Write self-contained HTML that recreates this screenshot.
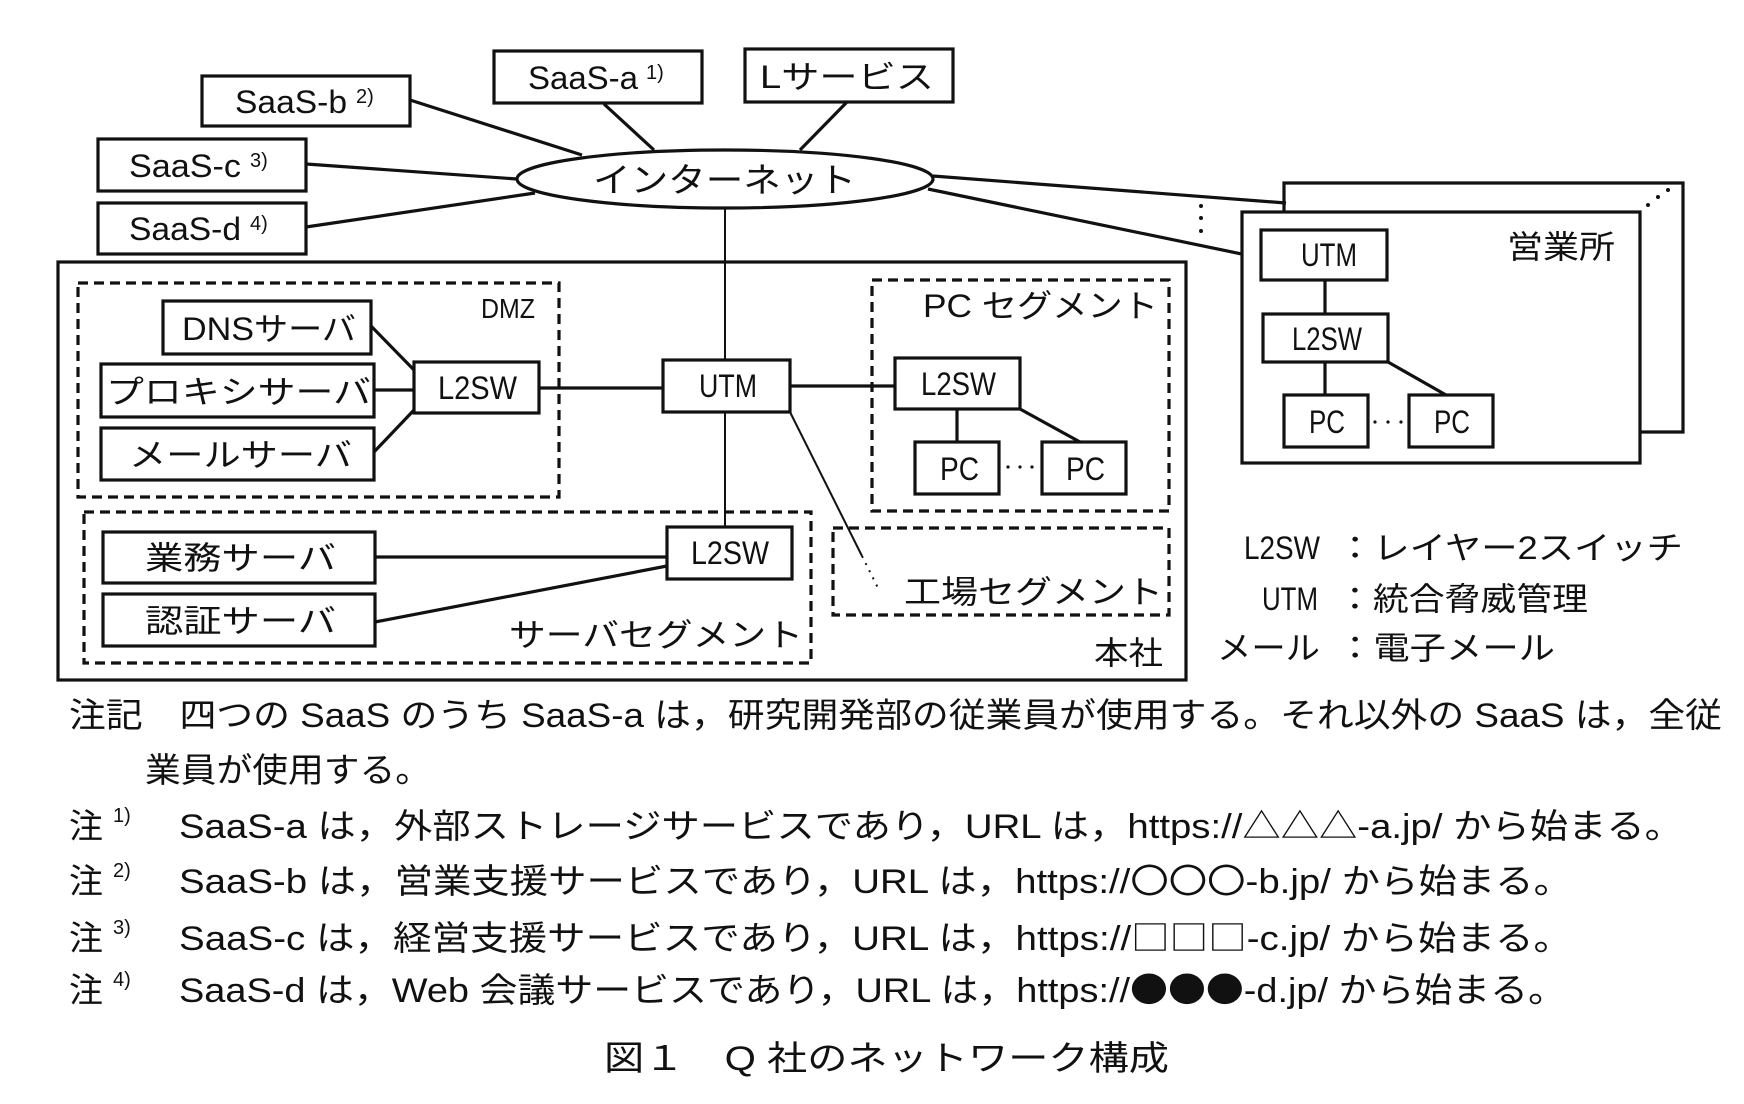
<!DOCTYPE html>
<html><head><meta charset="utf-8"><style>
html,body{margin:0;padding:0;background:#fff;}
svg{display:block;}
text{font-family:"Liberation Sans","Noto Sans CJK JP",sans-serif;fill:#111;}
</style></head><body>
<svg width="1744" height="1104" viewBox="0 0 1744 1104" xmlns="http://www.w3.org/2000/svg">
<g stroke="#111" stroke-width="3.2" fill="none">
<rect x="494" y="51" width="208" height="52"/>
<rect x="745" y="49" width="208" height="53"/>
<rect x="202" y="76" width="208" height="50"/>
<rect x="98" y="139" width="208" height="52"/>
<rect x="98" y="203" width="208" height="51"/>
<ellipse cx="725" cy="179" rx="208" ry="29"/>
<line x1="410" y1="100" x2="582" y2="155"/>
<line x1="604" y1="104" x2="654" y2="150"/>
<line x1="847" y1="102" x2="800" y2="150"/>
<line x1="306" y1="164" x2="517" y2="179"/>
<line x1="306" y1="227" x2="535" y2="193"/>
<line x1="933" y1="176" x2="1286" y2="203"/>
<line x1="928" y1="189" x2="1261" y2="258"/>
<line x1="725" y1="208" x2="725" y2="360" stroke-width="2"/>
<rect x="58" y="262" width="1128" height="418"/>
<g stroke-dasharray="10 6">
<rect x="78" y="283" width="481" height="214"/>
<rect x="872" y="280" width="297" height="231"/>
<rect x="84" y="512" width="727" height="151"/>
<rect x="833" y="528" width="336" height="87"/>
</g>
<rect x="163" y="301" width="208" height="53"/>
<rect x="101" y="364" width="273" height="53"/>
<rect x="101" y="428" width="273" height="52"/>
<rect x="414" y="362" width="125" height="51"/>
<rect x="663" y="360" width="127" height="52"/>
<rect x="895" y="358" width="125" height="51"/>
<rect x="915" y="442" width="84" height="52"/>
<rect x="1042" y="442" width="84" height="52"/>
<rect x="103" y="532" width="272" height="51"/>
<rect x="103" y="594" width="272" height="52"/>
<rect x="667" y="527" width="125" height="52"/>
<line x1="371" y1="326" x2="414" y2="370"/>
<line x1="374" y1="390" x2="414" y2="390"/>
<line x1="374" y1="452" x2="414" y2="410"/>
<line x1="539" y1="388" x2="663" y2="388"/>
<line x1="790" y1="386" x2="895" y2="386"/>
<line x1="957" y1="409" x2="957" y2="442"/>
<line x1="1020" y1="409" x2="1080" y2="442"/>
<line x1="725" y1="412" x2="725" y2="527" stroke-width="2"/>
<line x1="375" y1="557" x2="667" y2="557"/>
<line x1="375" y1="622" x2="667" y2="566"/>
<line x1="790" y1="412" x2="862" y2="556" stroke-width="2"/>
<line x1="862" y1="556" x2="878" y2="588" stroke-width="2" stroke-dasharray="2 6"/>
<polyline points="1284,212 1284,183 1683,183 1683,432 1640,432"/>
<rect x="1242" y="212" width="398" height="251" fill="#fff"/>
<rect x="1261" y="230" width="126" height="50"/>
<rect x="1263" y="314" width="125" height="48"/>
<rect x="1284" y="395" width="84" height="52"/>
<rect x="1409" y="395" width="84" height="52"/>
<line x1="1325" y1="280" x2="1325" y2="314"/>
<line x1="1325" y1="362" x2="1325" y2="395"/>
<line x1="1388" y1="362" x2="1446" y2="395"/>
</g>
<g fill="#111">
<circle cx="1201" cy="206" r="2"/><circle cx="1201" cy="218" r="2"/><circle cx="1201" cy="231" r="2"/>
<circle cx="1648" cy="205" r="2"/><circle cx="1658" cy="197" r="2"/><circle cx="1668" cy="190" r="2"/>
<circle cx="1375" cy="422" r="1.6"/><circle cx="1388" cy="422" r="1.6"/><circle cx="1401" cy="422" r="1.6"/>
<circle cx="1008" cy="467" r="1.6"/><circle cx="1020" cy="467" r="1.6"/><circle cx="1032" cy="467" r="1.6"/>
</g>
<g font-size="32">
<text x="528" y="89" textLength="110" lengthAdjust="spacingAndGlyphs">SaaS-a</text><text x="646" y="79" font-size="20">1)</text>
<text x="760" y="88" textLength="174" lengthAdjust="spacingAndGlyphs">Lサービス</text>
<text x="235" y="113" textLength="112" lengthAdjust="spacingAndGlyphs">SaaS-b</text><text x="356" y="103" font-size="20">2)</text>
<text x="129" y="177" textLength="112" lengthAdjust="spacingAndGlyphs">SaaS-c</text><text x="250" y="167" font-size="20">3)</text>
<text x="129" y="240" textLength="112" lengthAdjust="spacingAndGlyphs">SaaS-d</text><text x="250" y="230" font-size="20">4)</text>
<text x="593" y="192" textLength="263" lengthAdjust="spacingAndGlyphs" font-size="34">インターネット</text>
<text x="481" y="318" textLength="54" lengthAdjust="spacingAndGlyphs" font-size="28">DMZ</text>
<text x="182" y="340" textLength="174" lengthAdjust="spacingAndGlyphs">DNSサーバ</text>
<text x="106" y="403" textLength="265" lengthAdjust="spacingAndGlyphs">プロキシサーバ</text>
<text x="129" y="466" textLength="223" lengthAdjust="spacingAndGlyphs">メールサーバ</text>
<text x="438" y="399" textLength="79" lengthAdjust="spacingAndGlyphs">L2SW</text>
<text x="699" y="397" textLength="58" lengthAdjust="spacingAndGlyphs">UTM</text>
<text x="923" y="317" textLength="235" lengthAdjust="spacingAndGlyphs">PC セグメント</text>
<text x="921" y="395" textLength="75" lengthAdjust="spacingAndGlyphs">L2SW</text>
<text x="940" y="480" textLength="39" lengthAdjust="spacingAndGlyphs">PC</text>
<text x="1066" y="480" textLength="39" lengthAdjust="spacingAndGlyphs">PC</text>
<text x="145" y="569" textLength="191" lengthAdjust="spacingAndGlyphs">業務サーバ</text>
<text x="145" y="632" textLength="191" lengthAdjust="spacingAndGlyphs">認証サーバ</text>
<text x="691" y="564" textLength="78" lengthAdjust="spacingAndGlyphs">L2SW</text>
<text x="509" y="646" textLength="294" lengthAdjust="spacingAndGlyphs">サーバセグメント</text>
<text x="904" y="603" textLength="259" lengthAdjust="spacingAndGlyphs">工場セグメント</text>
<text x="1094" y="664" textLength="69" lengthAdjust="spacingAndGlyphs">本社</text>
<text x="1507" y="258" textLength="108" lengthAdjust="spacingAndGlyphs">営業所</text>
<text x="1301" y="266" textLength="56" lengthAdjust="spacingAndGlyphs">UTM</text>
<text x="1292" y="350" textLength="70" lengthAdjust="spacingAndGlyphs">L2SW</text>
<text x="1309" y="433" textLength="36" lengthAdjust="spacingAndGlyphs">PC</text>
<text x="1434" y="433" textLength="36" lengthAdjust="spacingAndGlyphs">PC</text>
<text x="1244" y="559" textLength="76" lengthAdjust="spacingAndGlyphs">L2SW</text>
<text x="1337" y="559" textLength="346" lengthAdjust="spacingAndGlyphs">：レイヤー2スイッチ</text>
<text x="1262" y="610" textLength="56" lengthAdjust="spacingAndGlyphs">UTM</text>
<text x="1337" y="610" textLength="251" lengthAdjust="spacingAndGlyphs">：統合脅威管理</text>
<text x="1217" y="659" textLength="103" lengthAdjust="spacingAndGlyphs">メール</text>
<text x="1337" y="659" textLength="218" lengthAdjust="spacingAndGlyphs">：電子メール</text>
</g>
<g font-size="34">
<text x="69" y="727" textLength="1653" lengthAdjust="spacingAndGlyphs">注記　四つの SaaS のうち SaaS-a は，研究開発部の従業員が使用する。それ以外の SaaS は，全従</text>
<text x="145" y="782" textLength="286" lengthAdjust="spacingAndGlyphs">業員が使用する。</text>
<text x="69" y="838">注</text><text x="113" y="822" font-size="20">1)</text>
<text x="179" y="838" textLength="1504" lengthAdjust="spacingAndGlyphs">SaaS-a は，外部ストレージサービスであり，URL は，https://△△△-a.jp/ から始まる。</text>
<text x="69" y="893">注</text><text x="113" y="877" font-size="20">2)</text>
<text x="179" y="893" textLength="1393" lengthAdjust="spacingAndGlyphs">SaaS-b は，営業支援サービスであり，URL は，https://<tspan font-family="Noto Sans CJK JP">〇〇〇</tspan>-b.jp/ から始まる。</text>
<text x="69" y="950">注</text><text x="113" y="934" font-size="20">3)</text>
<text x="179" y="950" textLength="1393" lengthAdjust="spacingAndGlyphs">SaaS-c は，経営支援サービスであり，URL は，https://<tspan font-family="Noto Sans CJK JP">□□□</tspan>-c.jp/ から始まる。</text>
<text x="69" y="1002">注</text><text x="113" y="986" font-size="20">4)</text>
<text x="179" y="1002" textLength="1387" lengthAdjust="spacingAndGlyphs">SaaS-d は，Web 会議サービスであり，URL は，https://<tspan font-family="Noto Sans CJK JP">●●●</tspan>-d.jp/ から始まる。</text>
<text x="604" y="1070" textLength="565" lengthAdjust="spacingAndGlyphs">図１　Q 社のネットワーク構成</text>
</g>
</svg>
</body></html>
